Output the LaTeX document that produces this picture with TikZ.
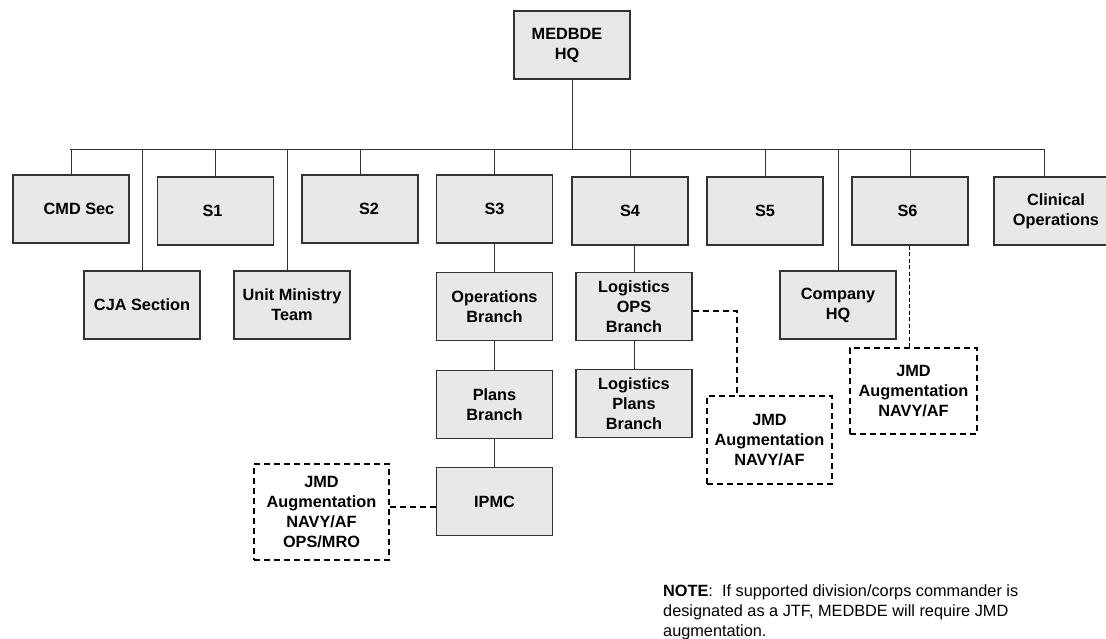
\documentclass[tikz,border=0pt]{standalone}
\usepackage{fontspec}
\setmainfont{Liberation Sans}
\usetikzlibrary{positioning}
\definecolor{boxgray}{RGB}{232,232,232}
\definecolor{linegray}{RGB}{50,50,50}

\begin{document}
\begin{tikzpicture}[x=1pt,y=-1pt,
  box/.style={draw=linegray,line width=1.2pt,fill=boxgray,rectangle,minimum width=116pt,minimum height=68pt,inner sep=0pt,align=center,font=\fontsize{16.3}{20}\selectfont\bfseries},
  augbox/.style={draw=black,line width=2pt,dash pattern=on 6pt off 4pt,rectangle,inner sep=0pt,align=center,font=\fontsize{16.3}{20}\selectfont\bfseries},
  link/.style={draw=linegray,line width=1pt},
  auglink/.style={draw=black,line width=2pt,dash pattern=on 6pt off 4pt},
  thinlink/.style={draw=black,line width=1pt,dash pattern=on 4pt off 2.5pt}]

  \useasboundingbox (0,0) rectangle (1106,638);

  \node [box] (hq) at (572,45) {MEDBDE\hspace*{10pt}\\HQ\hspace*{10pt}};

  \coordinate (bar_l) at (70,149);
  \coordinate (bar_r) at (1044,149);

  % top row
  \node [box] (cmd_sec)  at (71,209)    {\hspace*{16pt}CMD Sec};
  \node [box] (s_1)      at (215.5,211) {S1\hspace*{6pt}};
  \node [box] (s_2)      at (360,209)   {\hspace*{18pt}S2};
  \node [box] (s_3)      at (494.5,209) {S3};
  \node [box] (s_4)      at (630,211)   {S4};
  \node [box] (s_5)      at (765,211)   {S5};
  \node [box] (s_6)      at (910,211)   {S6\hspace*{5pt}};
  \node [box] (clinical) at (1052,211)  {\hspace*{8pt}Clinical\\\hspace*{8pt}Operations};

  % second row
  \node [box] (cja)     at (142,305) {CJA Section};
  \node [box] (umt)     at (292,305) {Unit Ministry\\Team};
  \node [box] (co_hq)   at (838,305) {Company\\HQ};

  \node [box,below=28pt of s_3] (ops_branch)   {Operations\\Branch};
  \node [box,below=29pt of ops_branch] (plans_branch) {Plans\\Branch};
  \node [box,below=28pt of plans_branch] (ipmc) {IPMC};

  \node [box,below=26pt of s_4,xshift=4pt] (log_ops)  {Logistics\\OPS\\Branch};
  \node [box,below=28pt of log_ops] (log_plans) {Logistics\\Plans\\Branch};

  % augmentation
  \node [augbox,minimum width=135pt,minimum height=96pt] (jmd_ipmc) at (321.5,512) {JMD\\Augmentation\\NAVY/AF\\OPS/MRO};
  \node [augbox,minimum width=125pt,minimum height=88pt] (jmd_log)  at (769.5,440) {JMD\\Augmentation\\NAVY/AF};
  \node [augbox,minimum width=127pt,minimum height=86pt] (jmd_s6)   at (913.5,391) {JMD\\Augmentation\\NAVY/AF};

  \path [link]
    (hq)         -- (hq |- bar_l)
    (bar_l)      -- (bar_r)
    (cmd_sec)    -- (cmd_sec |- bar_l)
    (cja)        -- (cja |- bar_l)
    (s_1)        -- (s_1 |- bar_l)
    ([xshift=-5pt]umt.north) -- ([xshift=-5pt]umt.north |- bar_l)
    (s_2)        -- (s_2 |- bar_l)
    (s_3)        -- (s_3 |- bar_l)
    (s_4)        -- (s_4 |- bar_l)
    (s_5)        -- (s_5 |- bar_l)
    (co_hq)      -- (co_hq |- bar_l)
    (s_6)        -- (s_6 |- bar_l)
    ([xshift=-8pt]clinical.north) -- ([xshift=-8pt]clinical.north |- bar_l)
    (s_3)        -- (ops_branch)
    (ops_branch) -- (plans_branch)
    (plans_branch) -- (ipmc)
    (log_ops.north) -- (log_ops.north |- s_4.south)
    (log_ops)    -- (log_plans);

  \coordinate (ipmc_link) at ([yshift=-5pt]ipmc.west);
  \coordinate (log_link) at ([yshift=-5pt]log_ops.east);

  \path [auglink]
    (ipmc_link) -- (ipmc_link -| jmd_ipmc.east)
    (log_link) -| ([xshift=-33pt]jmd_log.north);
  \path [thinlink]
    ([xshift=-1pt]s_6.south) -- ([xshift=-1pt]s_6.south |- jmd_s6.north);

  \node [anchor=north west,align=left,inner sep=0pt,font=\fontsize{16.3}{20}\selectfont] (note) at (663,584)
    {\textbf{NOTE}:\ \ If supported division/corps commander is\\designated as a JTF, MEDBDE will require JMD\\augmentation.};

\end{tikzpicture}
\end{document}
